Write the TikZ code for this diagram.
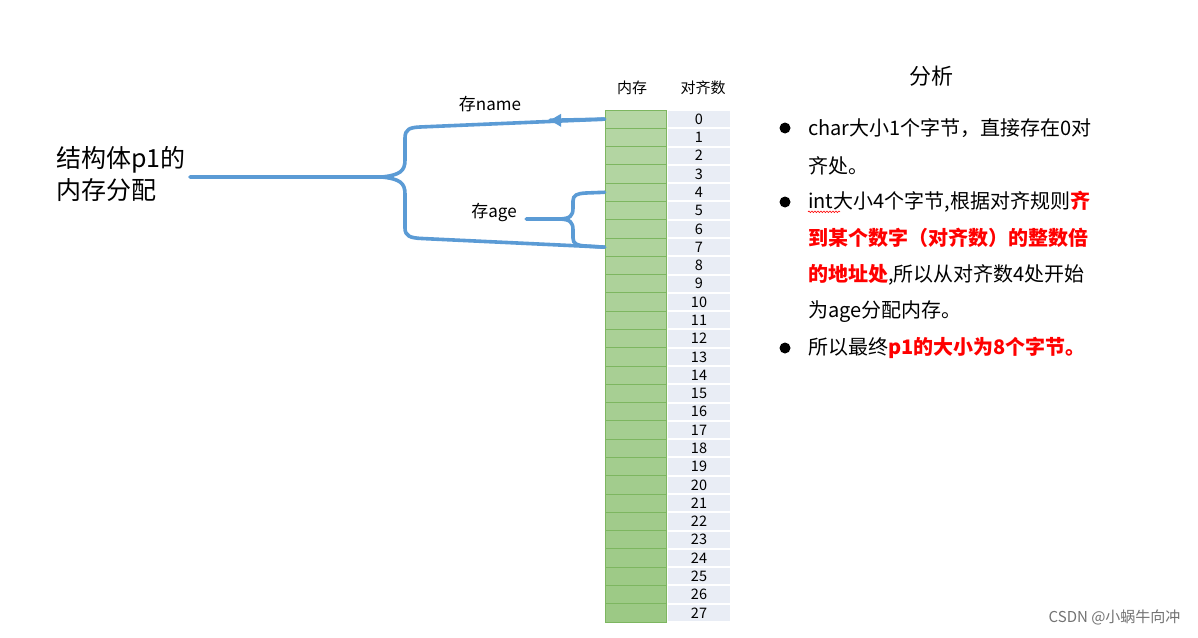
\documentclass[tikz,border=0pt]{standalone}
\usepackage{fontspec}
\setmainfont{Noto Sans CJK SC}
\usepackage{tikz}
\usetikzlibrary{arrows.meta,positioning,calc,decorations.pathmorphing}
\usepackage{xcolor}
\definecolor{BraceBlue}{HTML}{5B9BD5}
\definecolor{MemTop}{HTML}{B5D6A4}
\definecolor{MemBot}{HTML}{9CC985}
\definecolor{MemLine}{HTML}{7DB660}
\definecolor{AlignGray}{HTML}{E9EDF5}
\definecolor{KeyRed}{HTML}{FF0000}
\tikzset{
  brace/.style={draw=BraceBlue,line width=3.6pt,line cap=round,line join=round},
  memcell/.style={draw=MemLine,line width=0.9pt,minimum width=61pt,minimum height=18.29pt,inner sep=0pt},
  aligncell/.style={fill=AlignGray,minimum width=62pt,minimum height=16.4pt,inner sep=0pt,font=\fontsize{14.5}{14.5}\selectfont},
  noteline/.style={anchor=west,inner sep=0pt,font=\fontsize{20}{20}\selectfont},
}
\begin{document}
\begin{tikzpicture}[x=1pt,y=-1pt,>=Latex]
\useasboundingbox[fill=white] (0,0) rectangle (1198,637);
\node[font=\fontsize{15}{15}\selectfont] (hmem) at (632,88) {内存};
\node[font=\fontsize{15}{15}\selectfont] (halign) at (703,88) {对齐数};
\foreach \i [evaluate=\i as \pct using int(100*\i/27)] in {0,...,27}{
  \node[memcell,fill=MemBot!\pct!MemTop] (m\i) at (635.5,{119.14+18.286*\i}) {};
  \node[aligncell] (a\i) at (699,{119.14+18.286*\i}) {\i};
}
\node[align=left,anchor=west,inner sep=0pt,font=\fontsize{25}{32}\selectfont] (p1) at (56,174) {结构体p1的\\内存分配};
\node[font=\fontsize{17}{17}\selectfont] (name) at (490,104) {存name};
\node[font=\fontsize{17}{17}\selectfont] (age) at (494,212) {存age};
\coordinate (p1out) at (190,177);
\coordinate (bigtip) at (382,177);
\coordinate (nametip) at (550,120.3);
\coordinate (agetip) at (560,219);
\draw[brace] (p1out) -- (bigtip) .. controls (400,175) and (405,171) .. (405,160) -- (405,138) .. controls (405,129) and (410,127.5) .. (420,127) -- (m0.west);
\draw[brace] (bigtip) .. controls (400,179) and (405,183) .. (405,194) -- (405,228) .. controls (405,236) and (410,238) .. (422,238.5) -- (m7.west);
\draw[brace] (m0.west) -- (nametip);
\fill[BraceBlue] (nametip) -- ++(11,-6.5) -- ++(0,13) -- cycle;
\draw[brace] (age.east |- agetip) ++(6,0) -- (agetip) .. controls (570,218.5) and (573,216) .. (573,208) -- (573,201) .. controls (573,195) and (577,193.5) .. (586,193) -- (m4.west);
\draw[brace] (agetip) .. controls (570,219.5) and (573,222) .. (573,230) -- (573,238) .. controls (573,244) and (577,245.5) .. (586,246) -- (m7.west);
\node[font=\fontsize{22}{22}\selectfont] (title) at (931,76) {分析};
\foreach \y in {128,202,348} \fill (785,\y) circle (5.5);
\node[noteline] (l1) at (808,128) {char大小1个字节，直接存在0对};
\node[noteline] (l2) at (808,166) {齐处。};
\node[noteline] (l3) at (808,202) {int大小4个字节,根据对齐规则\textcolor{KeyRed}{\bfseries 齐}};
\node[noteline,text=KeyRed,font=\fontsize{20}{20}\selectfont\bfseries] (l4) at (808,238) {到某个数字（对齐数）的整数倍};
\node[noteline] (l5) at (808,275) {\textcolor{KeyRed}{\bfseries 的地址处},所以从对齐数4处开始};
\node[noteline] (l6) at (808,312) {为age分配内存。};
\node[noteline] (l7) at (808,348) {所以最终\textcolor{KeyRed}{\bfseries p1的大小为8个字节。}};
\draw[KeyRed,line width=0.6pt,decorate,decoration={snake,segment length=3pt,amplitude=0.8pt}] ([yshift=-3pt]l3.base west) -- ++(32,0);
\node[anchor=east,text=black!55,font=\fontsize{15}{15}\selectfont] (mark) at (1184,617) {CSDN @小蜗牛向冲};
\end{tikzpicture}
\end{document}
